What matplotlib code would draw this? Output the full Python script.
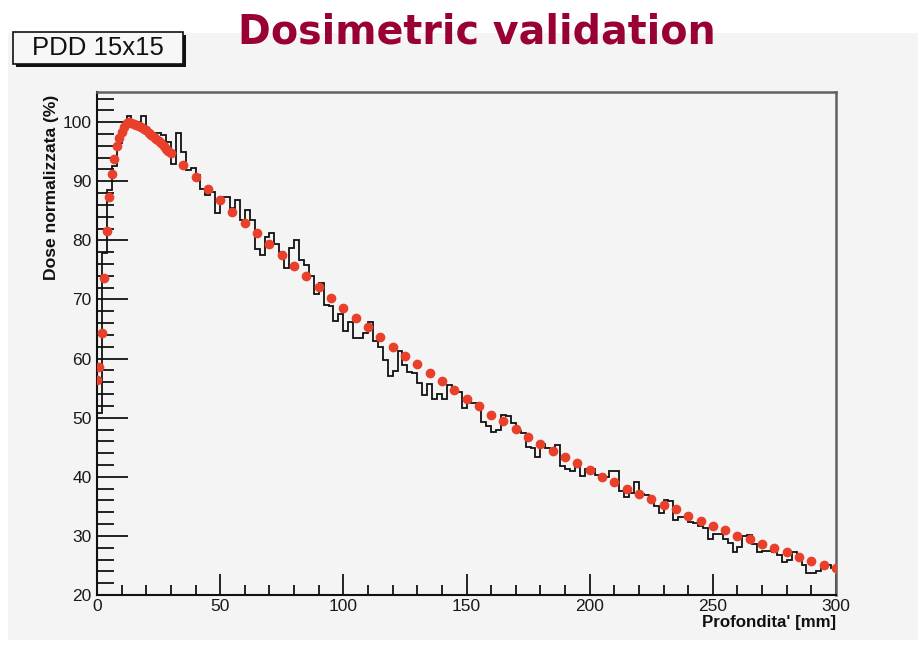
import numpy as np
import matplotlib.pyplot as plt
from matplotlib.patches import Rectangle

# == Monte Carlo dose, 2 mm bins from 0 to 300 mm (%) == #
bin_edges = np.arange(0, 302, 2)
mc_dose = [50.8, 77.9, 88.5, 92.5, 96.4, 99.2, 101.0, 100.1, 100.1, 101.0,
           98.6, 98.2, 98.2, 97.9, 96.7, 93.0, 98.2, 95.0, 91.9, 92.2,
           91.0, 88.7, 87.7, 88.2, 84.6, 87.4, 87.4, 85.4, 86.9, 83.5,
           85.2, 83.4, 78.6, 77.5, 80.5, 81.2, 79.3, 78.1, 75.4, 78.7,
           80.1, 76.7, 75.8, 73.9, 70.9, 72.8, 69.0, 68.9, 66.4, 67.5,
           64.6, 66.2, 63.4, 63.4, 64.4, 66.2, 62.9, 62.0, 59.7, 57.1,
           57.9, 61.2, 58.9, 57.8, 57.6, 55.8, 53.8, 55.7, 53.1, 54.0,
           53.1, 55.6, 54.7, 54.4, 51.7, 52.8, 52.5, 52.4, 49.3, 48.6,
           47.6, 48.0, 50.5, 50.2, 49.1, 47.8, 47.4, 45.0, 44.9, 43.4,
           45.5, 44.9, 44.6, 45.3, 41.8, 41.4, 41.0, 41.8, 40.2, 41.4,
           41.4, 40.3, 40.0, 40.0, 41.0, 41.0, 37.6, 36.5, 37.2, 39.2,
           37.1, 36.9, 36.2, 35.1, 33.8, 36.1, 35.9, 32.7, 33.2, 33.2,
           32.3, 32.1, 31.6, 31.4, 29.4, 30.4, 30.4, 29.4, 28.8, 27.3,
           28.2, 29.9, 30.1, 28.6, 27.3, 27.5, 27.5, 27.3, 26.8, 25.6,
           25.9, 27.3, 26.5, 25.1, 23.8, 23.8, 24.1, 25.1, 25.0, 24.5]

# == measured PDD: 1 mm steps in the build-up, 5 mm steps after == #
depth_fine = list(range(0, 31))
dose_fine = [56.3, 58.6, 64.4, 73.7, 81.6, 87.4, 91.2, 93.8, 95.9, 97.3,
             98.4, 99.2, 99.8, 100.0, 99.8, 99.7, 99.5, 99.3, 99.1, 98.8,
             98.6, 98.2, 97.8, 97.5, 97.1, 96.8, 96.4, 96.0, 95.5, 95.1,
             94.7]
depth_coarse = list(range(35, 305, 5))
dose_coarse = [92.7, 90.7, 88.7, 86.8, 84.8, 82.9, 81.2, 79.3, 77.5, 75.7,
               73.9, 72.1, 70.3, 68.6, 66.9, 65.4, 63.7, 62.0, 60.5, 59.1,
               57.5, 56.2, 54.6, 53.2, 51.9, 50.5, 49.5, 48.1, 46.8, 45.6,
               44.4, 43.3, 42.3, 41.2, 40.0, 39.1, 37.9, 37.1, 36.2, 35.2,
               34.6, 33.4, 32.5, 31.7, 31.0, 30.0, 29.4, 28.6, 27.9, 27.2,
               26.5, 25.7, 25.1, 24.5]

depth = depth_fine + depth_coarse
dose = dose_fine + dose_coarse

plt.rcParams['font.family'] = ['Liberation Sans', 'DejaVu Sans']

fig = plt.figure(figsize=(9.18, 6.53), dpi=100)
fig.patch.set_facecolor('white')

# canvas panel, kept behind the axes
fig.patches.append(Rectangle((8 / 918, 13 / 653), 910 / 918, 607 / 653,
                             transform=fig.transFigure, facecolor='#f4f4f4',
                             edgecolor='none', zorder=-10))

ax = fig.add_axes([97 / 918, 58 / 653, 739 / 918, 503 / 653])
ax.set_facecolor('#f4f4f4')

ax.stairs(mc_dose, bin_edges, color='#111111', linewidth=1.3, baseline=None, zorder=2)
ax.plot(depth, dose, 'o', color='#e8402a', markersize=7, markeredgewidth=0, zorder=3)

ax.set_xlim(0, 300)
ax.set_ylim(20, 105.1)
ax.set_xticks(np.arange(0, 301, 50))
ax.set_xticks(np.arange(0, 301, 10), minor=True)
ax.set_yticks(np.arange(20, 101, 10))
ax.set_yticks(np.arange(20, 105, 2), minor=True)

ax.tick_params(axis='y', which='major', direction='in', length=22, width=1.2,
               labelsize=12.5, pad=4, labelcolor='#1a1a1a')
ax.tick_params(axis='y', which='minor', direction='in', length=12, width=1.2)
ax.tick_params(axis='x', which='major', direction='in', length=15, width=1.2,
               labelsize=12.5, pad=3, labelcolor='#1a1a1a')
ax.tick_params(axis='x', which='minor', direction='in', length=7, width=1.2)

for side in ['left', 'bottom']:
    ax.spines[side].set_color('#111111')
    ax.spines[side].set_linewidth(1.5)
for side in ['top', 'right']:
    ax.spines[side].set_color('#606060')
    ax.spines[side].set_linewidth(1.8)

fig.text(52 / 918, 1 - 95 / 653, 'Dose normalizzata (%)', rotation=90,
         ha='center', va='top', fontsize=12.6, fontweight='bold', color='#111111')
fig.text(836 / 918, 1 - 622 / 653, "Profondita' [mm]", ha='right', va='center',
         fontsize=12.2, fontweight='bold', color='#111111')

# title and histogram label box
fig.text(477 / 918, 1 - 33 / 653, 'Dosimetric validation', ha='center', va='center',
         fontsize=28.5, fontweight='bold', color='#990036', family='DejaVu Sans')

fig.patches.append(Rectangle((16 / 918, 1 - 67 / 653), 170 / 918, 32 / 653,
                             transform=fig.transFigure, facecolor='#111111',
                             edgecolor='none', zorder=1))
fig.patches.append(Rectangle((13 / 918, 1 - 64 / 653), 170 / 918, 32 / 653,
                             transform=fig.transFigure, facecolor='#f7f7f7',
                             edgecolor='#111111', linewidth=1.2, zorder=2))
fig.text(98 / 918, 1 - 48 / 653, 'PDD 15x15', ha='center', va='center',
         fontsize=18.5, color='#111111', zorder=3)

fig.savefig('out.png', dpi=100, facecolor=fig.get_facecolor())
